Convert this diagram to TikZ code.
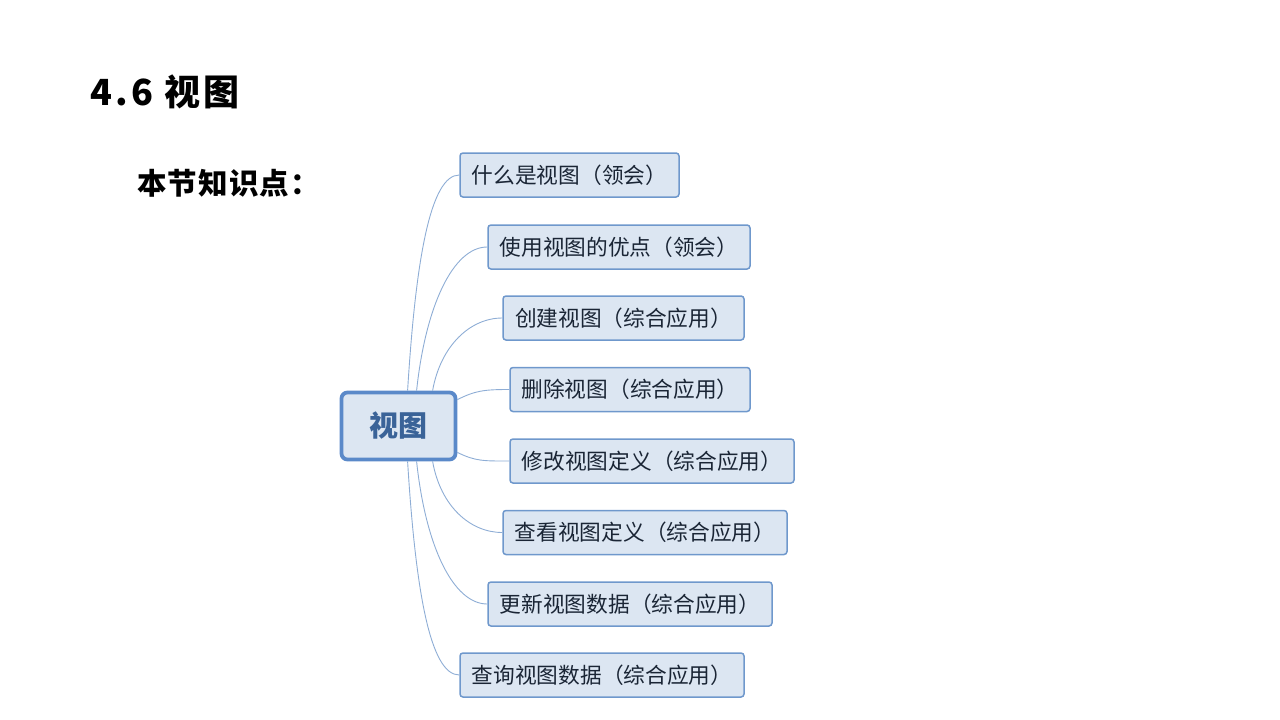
\documentclass[tikz,border=0pt]{standalone}
\usepackage{fontspec}
\newfontfamily\cjk{Noto Sans CJK SC}
\newfontfamily\cjktitle[LetterSpace=9]{Noto Sans CJK SC}
\newfontfamily\cjksub[LetterSpace=4]{Noto Sans CJK SC}
\usetikzlibrary{calc}
\definecolor{boxfill}{HTML}{DCE6F2}
\definecolor{boxline}{HTML}{6F98CC}
\definecolor{mainline}{HTML}{5A89C9}
\definecolor{maintext}{HTML}{3A6398}
\definecolor{linkline}{HTML}{8EADD5}
\definecolor{itemtext}{HTML}{1A2535}
\tikzset{
  item/.style={draw=boxline, line width=1.5pt, fill=boxfill, rounded corners=3pt,
    minimum height=44pt, inner sep=0pt, text=itemtext,
    font=\cjk\fontsize{21.7}{26}\selectfont},
  central/.style={draw=mainline, line width=3.8pt, fill=boxfill, rounded corners=6pt,
    minimum width=114pt, minimum height=67pt, inner sep=0pt, text=maintext,
    font=\cjk\bfseries\fontsize{29}{32}\selectfont},
  link/.style={draw=linkline, line width=0.9pt},
  title/.style={anchor=base west, inner sep=0pt, text=black}
}
\begin{document}
\begin{tikzpicture}[x=1pt, y=-1pt]
\useasboundingbox (0,0) rectangle (1280,720);
\node[title, font=\cjktitle\bfseries\fontsize{36}{40}\selectfont] (t1) at (90,105) {4.6 视图};
\node[title, font=\cjksub\bfseries\fontsize{29.5}{32}\selectfont] (t2) at (137,194) {本节知识点：};

\node[central] (c) at (398.5,426) {视图};

\node[item, minimum width=219pt] (b1) at (569.5,175) {什么是视图（领会）};
\node[item, minimum width=262pt] (b2) at (619,247) {使用视图的优点（领会）};
\node[item, minimum width=241pt] (b3) at (623.5,318) {创建视图（综合应用）};
\node[item, minimum width=240pt] (b4) at (630,389.5) {删除视图（综合应用）};
\node[item, minimum width=284pt] (b5) at (652,461) {修改视图定义（综合应用）};
\node[item, minimum width=284pt] (b6) at (645,532.5) {查看视图定义（综合应用）};
\node[item, minimum width=284pt] (b7) at (630,604) {更新视图数据（综合应用）};
\node[item, minimum width=284pt] (b8) at (602,675) {查询视图数据（综合应用）};

\coordinate (s1) at ($(c.north west)+(68,0)$);
\coordinate (s2) at ($(c.north west)+(77,0)$);
\coordinate (s3) at ($(c.north west)+(93,0)$);
\coordinate (s4) at ($(c.north east)+(0,9)$);
\coordinate (s5) at ($(c.south east)+(0,-9)$);
\coordinate (s6) at ($(c.south west)+(93,0)$);
\coordinate (s7) at ($(c.south west)+(77,0)$);
\coordinate (s8) at ($(c.south west)+(68,0)$);

\draw[link] (s1) .. controls +(8,-130) and +(-29,0) .. (b1.west);
\draw[link] (s2) .. controls +(9,-85) and +(-34,0) .. (b2.west);
\draw[link] (s3) .. controls +(8,-45) and +(-32,0) .. (b3.west);
\draw[link] (s4) .. controls +(18,-9) and +(-25,0) .. (b4.west);
\draw[link] (s5) .. controls +(18,9) and +(-25,0) .. (b5.west);
\draw[link] (s6) .. controls +(8,45) and +(-32,0) .. (b6.west);
\draw[link] (s7) .. controls +(9,85) and +(-34,0) .. (b7.west);
\draw[link] (s8) .. controls +(8,130) and +(-29,0) .. (b8.west);
\end{tikzpicture}
\end{document}
